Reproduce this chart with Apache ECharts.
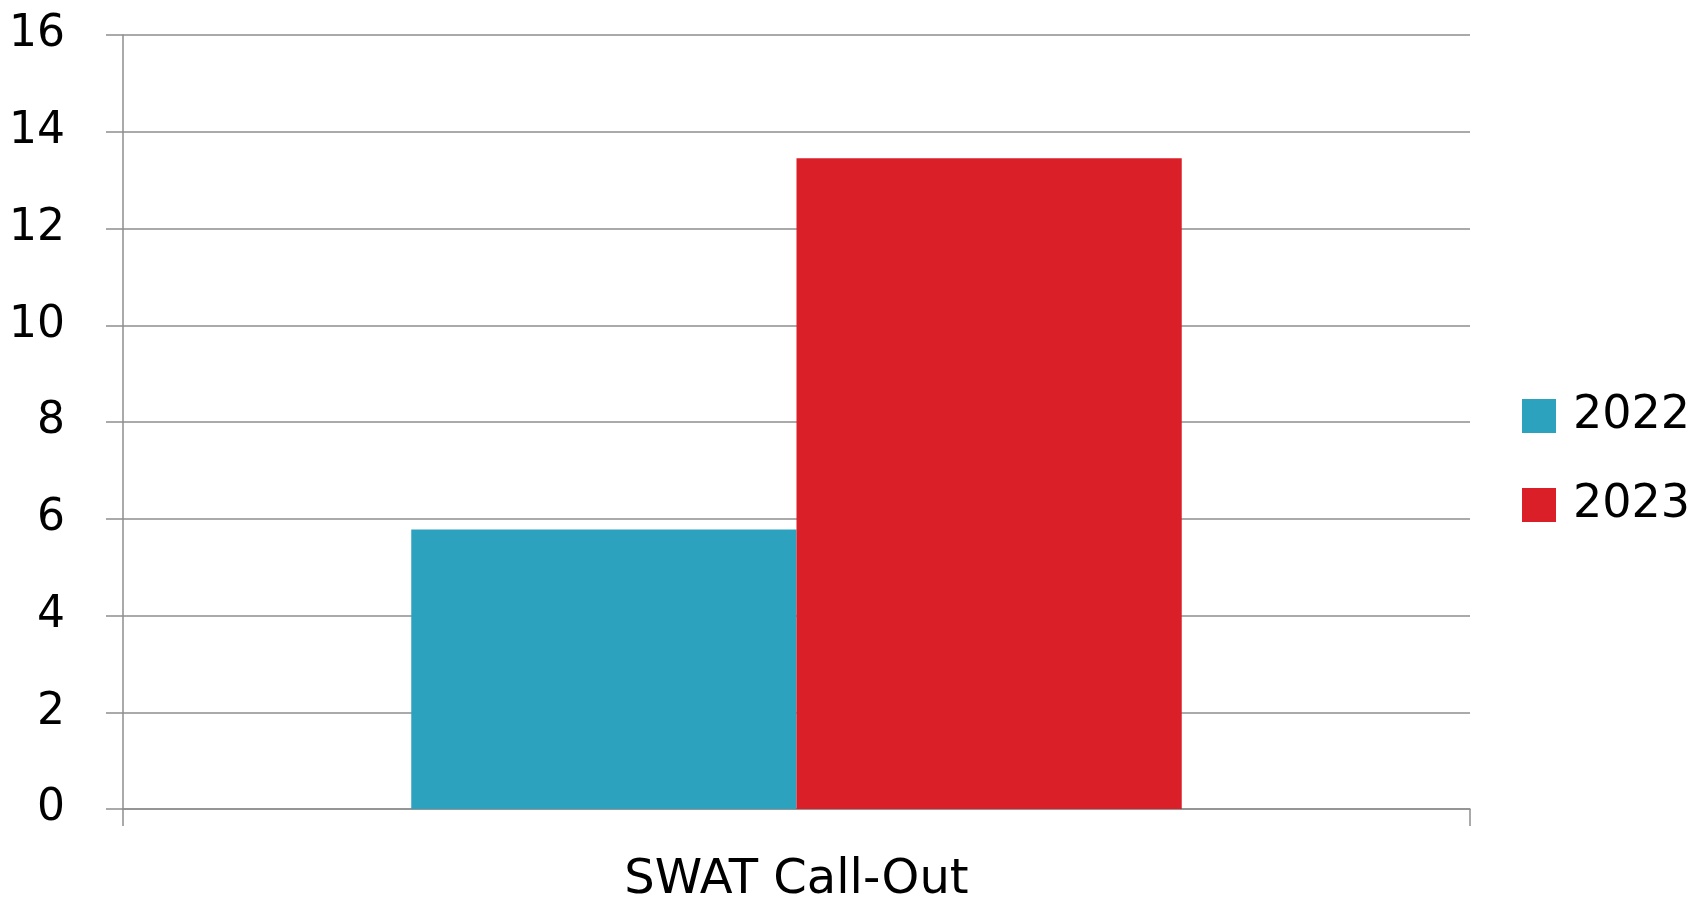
<!DOCTYPE html>
<html>
<head>
<meta charset="utf-8">
<script src="https://cdn.jsdelivr.net/npm/echarts@6/dist/echarts.min.js"></script>
<style>
  html, body { margin: 0; padding: 0; background: #fff; }
  #chart { width: 1707px; height: 902px; }
</style>
</head>
<body>
<div id="chart"></div>
<script>
// data
const categories = ['SWAT Call-Out']
const seriesNames = ['2022', '2023']
const values2022 = [5.78]
const values2023 = [13.45]
const colors = ['#2ca2bf', '#da1f28']

const chart = echarts.init(document.getElementById('chart'))
const font = 'DejaVu Sans'
const gray = '#8e8e8e'

chart.setOption({
    animation: false,
    grid: { left: 123, right: 237, top: 35, bottom: 93, containLabel: false, outerBoundsMode: 'none' },
    legend: {
        orient: 'vertical',
        left: 1522,
        top: 391,
        padding: 0,
        itemWidth: 34,
        itemHeight: 34,
        itemGap: 39,
        icon: 'rect',
        data: seriesNames,
        textStyle: { fontFamily: font, fontSize: 46, color: '#000', padding: [0, 0, 16, 12], lineHeight: 34 },
    },
    xAxis: {
        type: 'category',
        data: categories,
        axisLine: { lineStyle: { color: gray, width: 1.5 } },
        axisTick: { show: true, interval: 0, alignWithLabel: false, length: 17, lineStyle: { color: gray, width: 1.5 } },
        axisLabel: { fontFamily: font, fontSize: 48, color: '#000', margin: 48 },
    },
    yAxis: {
        type: 'value',
        min: 0,
        max: 16,
        interval: 2,
        axisLine: { show: true, lineStyle: { color: gray, width: 1.5 } },
        axisTick: { show: true, length: 17, lineStyle: { color: gray, width: 1.5 } },
        splitLine: { lineStyle: { color: gray, width: 1.5 } },
        axisLabel: { fontFamily: font, fontSize: 44, color: '#000', margin: 58, padding: [0, 0, 12, 0] },
    },
    series: [
        {
            name: seriesNames[0],
            type: 'bar',
            data: values2022,
            itemStyle: { color: colors[0] },
            barGap: '0%',
            barCategoryGap: '42.8%',
        },
        {
            name: seriesNames[1],
            type: 'bar',
            data: values2023,
            itemStyle: { color: colors[1] },
            barGap: '0%',
            barCategoryGap: '42.8%',
        },
    ],
})
</script>
</body>
</html>
